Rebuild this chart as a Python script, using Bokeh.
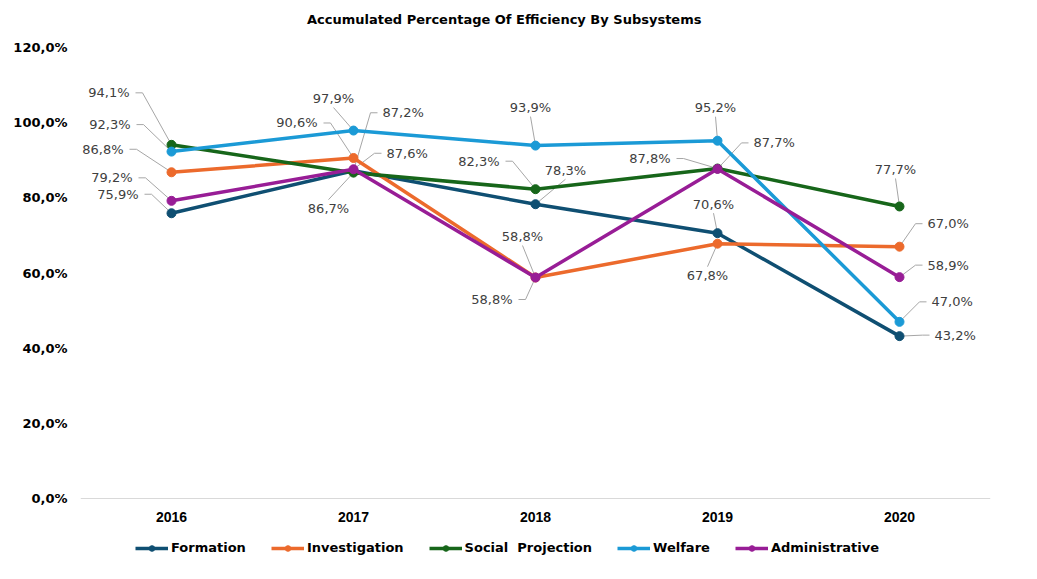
from bokeh.plotting import figure
from bokeh.models import (Range1d, FixedTicker, Legend, LegendItem, Label, ColumnDataSource)
from bokeh.embed import file_html
from bokeh.resources import INLINE

# ---------------- data ----------------
years = ["2016", "2017", "2018", "2019", "2020"]
series_names = ["Formation", "Investigation", "Social  Projection", "Welfare", "Administrative"]
formation = [75.9, 87.2, 78.3, 70.6, 43.2]
investigation = [86.8, 90.6, 58.8, 67.8, 67.0]
social_projection = [94.1, 86.7, 82.3, 87.8, 77.7]
welfare = [92.3, 97.9, 93.9, 95.2, 47.0]
administrative = [79.2, 87.6, 58.8, 87.7, 58.9]
y_ticks = [0, 20, 40, 60, 80, 100, 120]
title_text = "Accumulated Percentage Of Efficiency By  Subsystems"

series_values = [formation, investigation, social_projection, welfare, administrative]

# ---------------- styles ----------------
colors = ["#0F4F72", "#EC6A2C", "#17661A", "#1B9AD6", "#981D96"]

# label offsets in screen px (dx, dy downwards, align) per series per year
label_pos = [
    [(-33, -19, "right"), (29, -58, "left"), (30, -34, "center"), (-4, -29, "center"), (35, -1, "left")],
    [(-48, -23, "right"), (-36, -35, "right"), (-23, 22, "right"), (-10, 32, "center"), (28, -23, "left")],
    [(-42, -52, "right"), (-25, 36, "center"), (-36, -28, "right"), (-47, -10, "right"), (-4, -37, "center")],
    [(-41, -27, "right"), (-20, -32, "center"), (-5, -38, "center"), (-2, -33, "center"), (32, -20, "left")],
    [(-39, -23, "right"), (33, -16, "left"), (-13, -41, "center"), (36, -26, "left"), (28, -12, "left")],
]

W, H = 1021, 563
BL, BR = 80, 31
TOP_PX = 47                   # canvas y of the 120 % line
ZERO_PX = 498                 # canvas y of the 0 % line
TITLE_CX, TITLE_CY = 506, 19  # canvas centre of the title
frame_w = W - BL - BR
n = len(years)
y_top_tick = 120.0
px_x = frame_w / n                              # pixels per x unit
px_y = (ZERO_PX - TOP_PX) / y_top_tick          # pixels per y unit
y_min = -(H - ZERO_PX) / px_y                   # frame extends below 0 (axis labels + legend)
y_max = ZERO_PX / px_y                          # and above 120 (title)

p = figure(width=W, height=H, output_backend="svg", toolbar_location=None,
           x_range=Range1d(0, n), y_range=Range1d(y_min, y_max),
           min_border_left=BL, min_border_right=BR, min_border_top=0, min_border_bottom=0)
p.outline_line_color = None
p.xgrid.visible = False
p.ygrid.visible = False
p.background_fill_color = "white"
p.border_fill_color = "white"

title = Label(x=(TITLE_CX - BL) / px_x, y=(ZERO_PX - TITLE_CY) / px_y, text=title_text,
              text_align="center", text_baseline="middle", text_font="DejaVu Sans",
              text_font_style="bold", text_font_size="13px", text_color="#000000")
p.add_layout(title)

xs_pos = [i + 0.5 for i in range(n)]

# axes
p.xaxis.fixed_location = 0
p.xaxis.ticker = FixedTicker(ticks=xs_pos)
p.xaxis.major_label_overrides = {x: y for x, y in zip(xs_pos, years)}
p.xaxis.major_tick_line_color = None
p.xaxis.minor_tick_line_color = None
p.xaxis.axis_line_color = "#D9D9D9"
p.xaxis.major_label_text_font = "Liberation Sans"
p.xaxis.major_label_text_font_style = "bold"
p.xaxis.major_label_text_font_size = "14px"
p.xaxis.major_label_text_color = "#000000"
p.xaxis.major_label_standoff = 7

p.yaxis.ticker = FixedTicker(ticks=y_ticks)
p.yaxis.major_label_overrides = {v: f"{v:.1f}".replace(".", ",") + "%" for v in y_ticks}
p.yaxis.major_tick_line_color = None
p.yaxis.minor_tick_line_color = None
p.yaxis.axis_line_color = None
p.yaxis.major_label_text_font = "DejaVu Sans"
p.yaxis.major_label_text_font_style = "bold"
p.yaxis.major_label_text_font_size = "13px"
p.yaxis.major_label_text_color = "#000000"
p.yaxis.major_label_standoff = 7

# leader lines
lx, ly = [], []
for s, vals in enumerate(series_values):
    for i, v in enumerate(vals):
        dx, dy, al = label_pos[s][i]
        x0, y0 = xs_pos[i], v
        def to_d(ox, oy):
            return x0 + ox / px_x, y0 - oy / px_y
        if al == "right":
            pts = [to_d(dx + 6, dy), to_d(dx + 13, dy), (x0, y0)]
        elif al == "left":
            pts = [to_d(dx - 5, dy), to_d(dx - 12, dy), (x0, y0)]
        else:
            if dy < 0:
                pts = [to_d(dx, dy + 9), (x0, y0)]
            else:
                pts = [to_d(dx, dy - 9), (x0, y0)]
        lx.append([q[0] for q in pts])
        ly.append([q[1] for q in pts])
p.multi_line(xs=lx, ys=ly, line_color="#A6A6A6", line_width=1)

items = []
for s, vals in enumerate(series_values):
    r1 = p.line(xs_pos, vals, line_color=colors[s], line_width=3.5)
    r2 = p.scatter(xs_pos, vals, marker="circle", size=9, fill_color=colors[s], line_color=colors[s])
    items.append(LegendItem(label=series_names[s], renderers=[r1, r2]))

# labels
tx, ty, tt, ta = [], [], [], []
for s, vals in enumerate(series_values):
    for i, v in enumerate(vals):
        dx, dy, al = label_pos[s][i]
        tx.append(xs_pos[i] + dx / px_x)
        ty.append(v - dy / px_y)
        tt.append(f"{v:.1f}".replace(".", ",") + "%")
        ta.append(al)
src = ColumnDataSource(dict(x=tx, y=ty, text=tt, align=ta))
p.text(x="x", y="y", text="text", source=src, text_align="align", text_baseline="middle",
       text_font={"value": "DejaVu Sans"}, text_font_size="13px", text_color="#404040")

legend = Legend(items=items, orientation="horizontal", location=(55, 8),
                glyph_width=33, glyph_height=14, label_standoff=3, spacing=25,
                label_text_font="DejaVu Sans", label_text_font_style="bold",
                label_text_font_size="13px", label_text_color="#000000",
                border_line_color=None, background_fill_alpha=0, padding=4, margin=0)
p.add_layout(legend, "center")

open("out.html", "w").write(file_html(p, INLINE))
